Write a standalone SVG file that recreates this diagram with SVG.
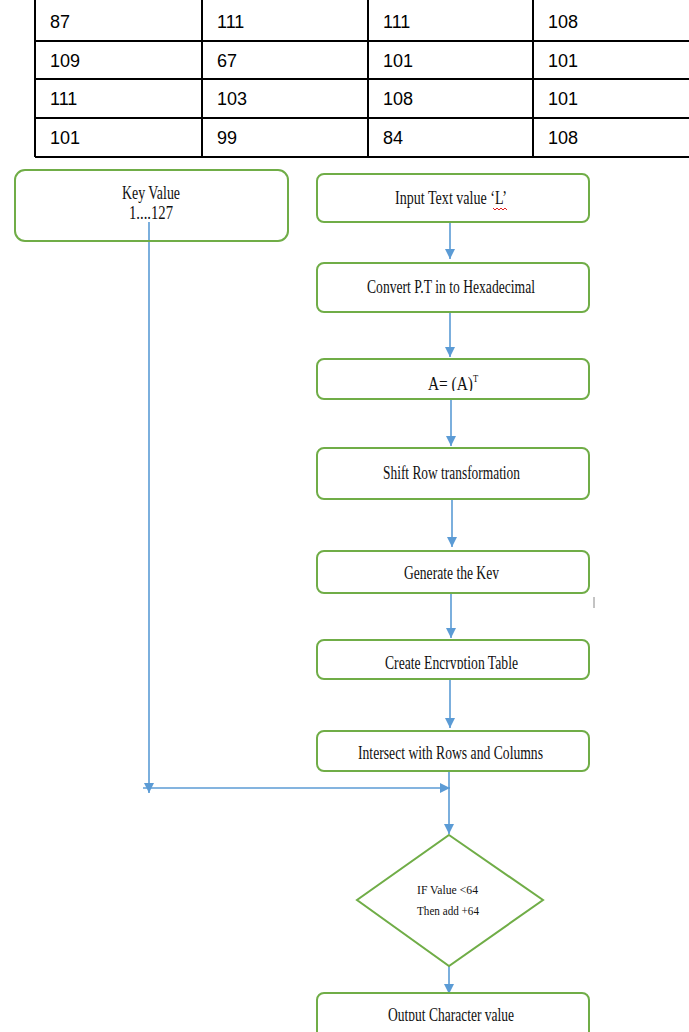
<svg xmlns="http://www.w3.org/2000/svg" width="689" height="1032" viewBox="0 0 689 1032">
  <style>
    .cell { font-family: "Liberation Sans", Arial, sans-serif; font-size: 18px; fill: #000; }
    .grid { stroke: #000; stroke-width: 2; fill: none; }
    .box { fill: #fff; stroke: #70AD47; stroke-width: 2; }
    .lbl { font-family: "Liberation Serif", "Times New Roman", serif; font-size: 18px; fill: #111; }
    .small { font-family: "Liberation Serif", "Times New Roman", serif; font-size: 13px; fill: #111; }
    .flow { stroke: #5B9BD5; stroke-width: 1.6; fill: none; }
  </style>
  <defs>
    <marker id="arrow" markerUnits="userSpaceOnUse" markerWidth="10" markerHeight="10" viewBox="0 0 10 10" refX="10" refY="5" orient="auto">
      <path d="M0,0 L10,5 L0,10 z" fill="#5B9BD5"/>
    </marker>
    <clipPath id="clipKey"><rect x="317" y="551" width="272" height="28"/></clipPath>
    <clipPath id="clipEnc"><rect x="317" y="640" width="272" height="29"/></clipPath>
    <clipPath id="clipOut"><rect x="317" y="993" width="272" height="28"/></clipPath>
    <clipPath id="clipA"><rect x="317" y="359" width="272" height="32"/></clipPath>
  </defs>

  <rect width="689" height="1032" fill="#fff"/>

  <!-- value table -->
  <g id="table">
    <path class="grid" d="M35,0 V157 M202,0 V157 M368,0 V157 M533,0 V157 M35,41 H689 M35,79 H689 M35,118 H689 M35,157 H689"/>
    <text class="cell" x="50" y="28">87</text>
    <text class="cell" x="217" y="28">111</text>
    <text class="cell" x="383" y="28">111</text>
    <text class="cell" x="548" y="28">108</text>
    <text class="cell" x="50" y="67">109</text>
    <text class="cell" x="217" y="67">67</text>
    <text class="cell" x="383" y="67">101</text>
    <text class="cell" x="548" y="67">101</text>
    <text class="cell" x="50" y="105">111</text>
    <text class="cell" x="217" y="105">103</text>
    <text class="cell" x="383" y="105">108</text>
    <text class="cell" x="548" y="105">101</text>
    <text class="cell" x="50" y="144">101</text>
    <text class="cell" x="217" y="144">99</text>
    <text class="cell" x="383" y="144">84</text>
    <text class="cell" x="548" y="144">108</text>
  </g>

  <!-- connectors -->
  <g id="connectors">
    <line class="flow" x1="450" y1="222" x2="450" y2="259" marker-end="url(#arrow)"/>
    <line class="flow" x1="450" y1="312" x2="450" y2="357" marker-end="url(#arrow)"/>
    <line class="flow" x1="451" y1="399" x2="451" y2="446" marker-end="url(#arrow)"/>
    <line class="flow" x1="452" y1="499" x2="452" y2="547" marker-end="url(#arrow)"/>
    <line class="flow" x1="451" y1="593" x2="451" y2="638" marker-end="url(#arrow)"/>
    <line class="flow" x1="450" y1="679" x2="450" y2="728" marker-end="url(#arrow)"/>
    <line class="flow" x1="449" y1="771" x2="449" y2="834" marker-end="url(#arrow)"/>
    <line class="flow" x1="149" y1="224" x2="149" y2="793" marker-end="url(#arrow)"/>
    <line class="flow" x1="143" y1="788" x2="450" y2="788" marker-end="url(#arrow)"/>
    <line class="flow" x1="449" y1="966" x2="449" y2="994" marker-end="url(#arrow)"/>
  </g>

  <!-- key range -->
  <g id="key-value">
    <rect class="box" x="15" y="170" width="273" height="71" rx="10"/>
    <text class="lbl" x="122" y="199" textLength="58" lengthAdjust="spacingAndGlyphs">Key Value</text>
    <text class="lbl" x="129" y="219" textLength="44" lengthAdjust="spacingAndGlyphs">1....127</text>
  </g>
  <line class="flow" x1="149" y1="222" x2="149" y2="240"/>

  <g id="input-text">
    <rect class="box" x="317" y="174" width="272" height="48" rx="7"/>
    <text class="lbl" x="395" y="204" textLength="112" lengthAdjust="spacingAndGlyphs">Input Text value ‘L’</text>
    <path d="M493,208 l2,2 l2,-2 l2,2 l2,-2 l2,2 l2,-2 l2,2" stroke="#E02020" stroke-width="1" fill="none"/>
  </g>

  <g id="convert-hex">
    <rect class="box" x="317" y="263" width="272" height="49" rx="7"/>
    <text class="lbl" x="367" y="293" textLength="168" lengthAdjust="spacingAndGlyphs">Convert P.T in to Hexadecimal</text>
  </g>

  <g id="transpose">
    <rect class="box" x="317" y="359" width="272" height="40" rx="7"/>
    <g clip-path="url(#clipA)">
      <text class="lbl" transform="translate(428,390) scale(0.855,1)">A= (A)<tspan font-size="10" dy="-8">T</tspan></text>
    </g>
  </g>

  <g id="shift-row">
    <rect class="box" x="317" y="448" width="272" height="51" rx="7"/>
    <text class="lbl" x="383" y="479" textLength="137" lengthAdjust="spacingAndGlyphs">Shift Row transformation</text>
  </g>

  <g id="generate-key">
    <rect class="box" x="317" y="551" width="272" height="42" rx="7"/>
    <g clip-path="url(#clipKey)">
      <text class="lbl" x="404" y="579" textLength="95" lengthAdjust="spacingAndGlyphs">Generate  the Key</text>
    </g>
  </g>
  <line x1="594" y1="597" x2="594" y2="608" stroke="#888" stroke-width="1"/>

  <g id="encryption-table">
    <rect class="box" x="317" y="640" width="272" height="39" rx="7"/>
    <g clip-path="url(#clipEnc)">
      <text class="lbl" x="385" y="669" textLength="133" lengthAdjust="spacingAndGlyphs">Create Encryption  Table</text>
    </g>
  </g>

  <g id="intersect">
    <rect class="box" x="317" y="731" width="272" height="40" rx="7"/>
    <text class="lbl" x="358" y="759" textLength="185" lengthAdjust="spacingAndGlyphs">Intersect  with Rows and Columns</text>
  </g>

  <g id="decision">
    <polygon class="box" points="449,835 543,900 449,966 357,900"/>
    <text class="small" x="417" y="894" textLength="61" lengthAdjust="spacingAndGlyphs">IF Value &lt;64</text>
    <text class="small" x="417" y="915" textLength="62" lengthAdjust="spacingAndGlyphs">Then add +64</text>
  </g>

  <g id="output">
    <rect class="box" x="317" y="993" width="272" height="60" rx="7"/>
    <g clip-path="url(#clipOut)">
      <text class="lbl" x="388" y="1021" textLength="126" lengthAdjust="spacingAndGlyphs">Output Character  value</text>
    </g>
  </g>
</svg>
